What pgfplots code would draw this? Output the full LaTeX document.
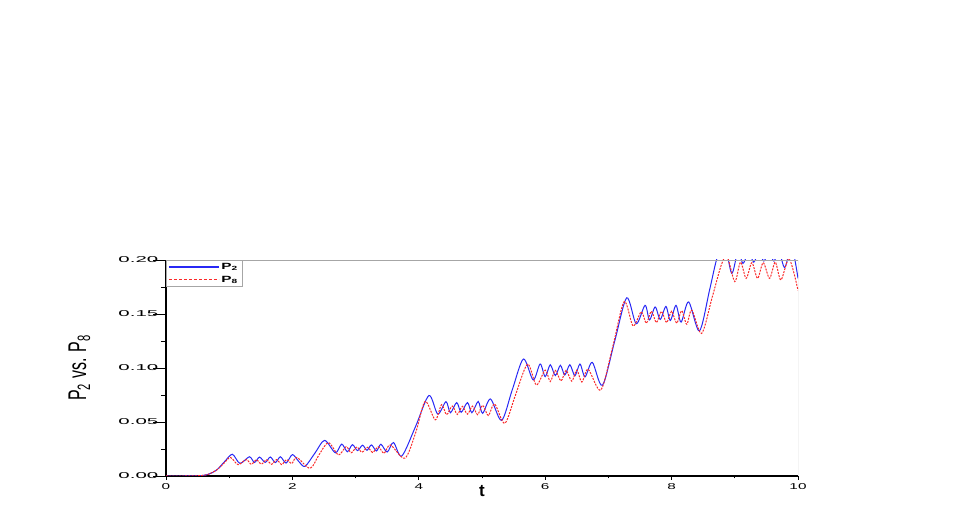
\documentclass[border=0pt]{standalone}
\usepackage{pgfplots}
\pgfplotsset{compat=1.18}
\usepackage{fontspec}
\setmainfont{Liberation Sans}
\definecolor{pblue}{RGB}{40,40,245}
\definecolor{pred}{RGB}{250,40,40}

\begin{document}
\begin{tikzpicture}
\path[use as bounding box] (0pt,0pt) rectangle (969pt,526pt);
\begin{axis}[
  at={(166pt,50pt)}, anchor=south west,
  width=632pt, height=216pt, scale only axis,
  xmin=0, xmax=10, ymin=0, ymax=0.2,
  axis x line*=bottom, axis y line*=left,
  axis line style={black, line width=1.1pt},
  xtick={0,2,4,6,8,10}, minor xtick={1,3,5,7,9},
  ytick={0,0.05,0.1,0.15,0.2}, minor ytick={0.025,0.075,0.125,0.175},
  tick align=outside,
  tick style={black, line width=0.9pt},
  xtick style={/pgfplots/major tick length=4pt, /pgfplots/minor tick length=2.5pt},
  ytick style={/pgfplots/major tick length=13pt, /pgfplots/minor tick length=5pt},
  /pgf/number format/assume math mode=true,
  tick label style={font=\fontsize{8.5}{9}\selectfont},
  xticklabel={\scalebox{1.8}[1]{\pgfmathprintnumber{\tick}}},
  yticklabel={\scalebox{2.4}[1]{\pgfmathprintnumber[fixed,fixed zerofill,precision=2]{\tick}}},
  xlabel={t},
  xlabel style={at={(axis description cs:0.5,-0.07)}, anchor=center, font=\bfseries\fontsize{17}{20}\selectfont},
  ylabel={\scalebox{1}[1.6]{P\textsubscript{2} vs. P\textsubscript{8}}},
  ylabel style={at={(axis description cs:-0.137,0.5)}, anchor=center, font=\fontsize{16}{19}\selectfont},
  legend style={at={(0,1)}, anchor=north west, fill=white, name=lgd,
    font=\fontsize{9}{10}\selectfont, inner xsep=2pt, inner ysep=1pt,
    row sep=1pt, cells={anchor=west}},
  legend image code/.code={\draw[#1] (0pt,0pt) -- (50pt,0pt);},
  clip=true,
]
\addlegendimage{color=pblue, line width=1.3pt}
\addlegendentry{\scalebox{1.7}[1]{\bfseries P\textsubscript{2}}}
\addlegendimage{color=pred, line width=1.3pt, dash pattern=on 3pt off 2pt}
\addlegendentry{\scalebox{1.7}[1]{\bfseries P\textsubscript{8}}}
\addplot[color=pblue, line width=1pt, smooth, forget plot] coordinates {
(0,0)(0.3,0)(0.5,0.0002)(0.65,0.0012)(0.8,0.0055)(0.93,0.0135)(1.05,0.0201)
(1.17,0.0117)(1.32,0.0178)(1.40,0.0125)(1.48,0.0175)(1.57,0.0126)(1.65,0.0176)
(1.73,0.0124)(1.81,0.0178)(1.90,0.0120)(2.00,0.0198)(2.10,0.0135)(2.20,0.0090)
(2.36,0.0215)(2.51,0.0330)(2.68,0.0215)(2.78,0.0295)(2.87,0.0225)(2.95,0.0290)
(3.03,0.0235)(3.11,0.0285)(3.18,0.0238)(3.25,0.0288)(3.33,0.0232)(3.40,0.0294)
(3.50,0.0222)(3.60,0.0310)(3.73,0.0185)(3.95,0.0460)(4.16,0.0745)(4.30,0.0574)
(4.43,0.0688)(4.50,0.0586)(4.60,0.0680)(4.67,0.0590)(4.77,0.0680)(4.84,0.0586)
(4.94,0.0690)(5.01,0.0580)(5.135,0.0713)(5.31,0.0515)(5.48,0.0800)(5.655,0.1083)
(5.81,0.0890)(5.92,0.1037)(6.00,0.0920)(6.08,0.1030)(6.16,0.0930)(6.24,0.1025)
(6.31,0.0935)(6.39,0.1030)(6.47,0.0928)(6.55,0.1037)(6.63,0.0918)(6.745,0.1052)
(6.905,0.0840)(7.10,0.1250)(7.29,0.1650)(7.44,0.1410)(7.58,0.1580)(7.65,0.1445)
(7.74,0.1565)(7.82,0.1450)(7.91,0.1570)(7.98,0.1440)(8.07,0.1580)(8.15,0.1425)
(8.27,0.1612)(8.44,0.1343)(8.60,0.1720)(8.71,0.2000)(8.83,0.2180)(8.95,0.1877)
(9.05,0.2080)(9.13,0.1969)(9.22,0.2070)(9.30,0.1980)(9.38,0.2070)(9.46,0.1990)
(9.54,0.2070)(9.62,0.1990)(9.70,0.2080)(9.79,0.1930)(9.90,0.2120)(10.0,0.1830)
};
\addplot[color=pred, line width=1pt, dash pattern=on 2pt off 1.2pt, smooth, forget plot] coordinates {
(0,0)(0.3,0)(0.5,0.0002)(0.65,0.0012)(0.8,0.0055)(0.92,0.0120)(1.02,0.0172)
(1.14,0.0105)(1.27,0.0152)(1.35,0.0108)(1.43,0.0150)(1.51,0.0110)(1.59,0.0150)
(1.67,0.0108)(1.75,0.0152)(1.83,0.0106)(1.91,0.0152)(1.99,0.0115)(2.07,0.0172)
(2.28,0.0071)(2.42,0.0195)(2.57,0.0309)(2.73,0.0195)(2.85,0.0272)(2.93,0.0215)
(3.02,0.0268)(3.10,0.0220)(3.19,0.0266)(3.27,0.0218)(3.36,0.0270)(3.45,0.0210)
(3.55,0.0287)(3.78,0.0165)(3.95,0.0400)(4.10,0.0690)(4.26,0.0520)(4.36,0.0660)
(4.44,0.0568)(4.53,0.0648)(4.61,0.0570)(4.69,0.0645)(4.77,0.0572)(4.85,0.0648)
(4.93,0.0568)(5.01,0.0655)(5.10,0.0560)(5.20,0.0667)(5.36,0.0488)(5.53,0.0750)
(5.72,0.1035)(5.86,0.0843)(6.00,0.0980)(6.08,0.0875)(6.16,0.0978)(6.25,0.0880)
(6.33,0.0978)(6.42,0.0878)(6.50,0.0980)(6.58,0.0870)(6.68,0.0988)(6.88,0.0796)
(7.07,0.1200)(7.25,0.1614)(7.39,0.1390)(7.52,0.1520)(7.60,0.1414)(7.68,0.1525)
(7.76,0.1420)(7.84,0.1525)(7.92,0.1420)(8.00,0.1525)(8.08,0.1415)(8.16,0.1530)
(8.24,0.1405)(8.32,0.1535)(8.475,0.1320)(8.64,0.1650)(8.79,0.1960)(8.88,0.2030)
(9.00,0.1800)(9.09,0.1980)(9.18,0.1830)(9.27,0.1975)(9.36,0.1830)(9.45,0.1975)
(9.55,0.1830)(9.64,0.1980)(9.73,0.1815)(9.86,0.2010)(10.0,0.1720)
};
\draw[gray!70, line width=0.6pt] (rel axis cs:0,1) -- (rel axis cs:1,1) -- (rel axis cs:1,0);
\end{axis}
\draw[gray!70, line width=0.7pt] (lgd.south west) rectangle (lgd.north east);
\end{tikzpicture}
\end{document}
